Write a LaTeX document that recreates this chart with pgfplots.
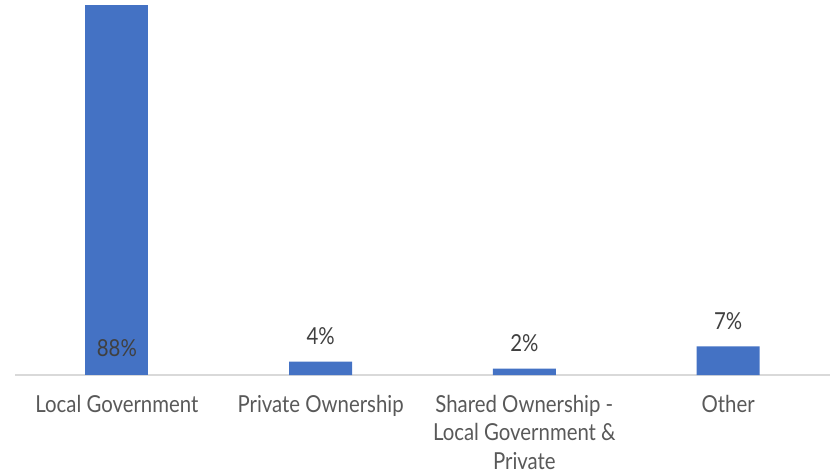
\documentclass[border=0pt]{standalone}
\usepackage{pgfplots}
\pgfplotsset{compat=1.18}
\usepackage{fontspec}
\setmainfont{Lato}[FakeStretch=0.87]
\definecolor{barblue}{HTML}{4472C4}
\definecolor{labgray}{HTML}{595959}
\definecolor{valgray}{HTML}{404040}
\definecolor{axgray}{HTML}{D9D9D9}
\begin{document}
\begin{tikzpicture}
\useasboundingbox (0,0) rectangle (833bp,476bp);
\begin{axis}[
  at={(15bp,101bp)}, anchor=south west,
  scale only axis, width=815bp, height=370bp,
  ybar, bar width=63bp, bar shift=0pt,
  xmin=-0.5, xmax=3.5, ymin=0, ymax=88,
  axis y line=none,
  axis x line*=bottom,
  x axis line style={draw=axgray, line width=1.5bp, -},
  xtick={0,1,2,3},
  xticklabels={Local Government, Private Ownership, {Shared Ownership -\\Local Government \&\\Private}, Other},
  xtick style={draw=none},
  x tick label style={font=\fontsize{23.5}{29}\selectfont, text=labgray, align=center, anchor=north, yshift=-12bp},
  /pgf/number format/assume math mode=true,
  point meta=explicit symbolic,
  nodes near coords,
  every node near coord/.append style={font=\fontsize{23.5}{28}\selectfont, text=valgray, anchor=base, yshift=17bp},
  clip=false,
]
\addplot[fill=barblue, draw=none, nodes near coords=\empty] coordinates {(0,88) [88\%]};
\addplot[fill=barblue, draw=none] coordinates {(1,3.2) [4\%] (2,1.5) [2\%] (3,6.8) [7\%]};
\node[font=\fontsize{23.5}{28}\selectfont, text=valgray, anchor=base] at (axis cs:0,4.4) {88\%};
\end{axis}
\end{tikzpicture}
\end{document}
